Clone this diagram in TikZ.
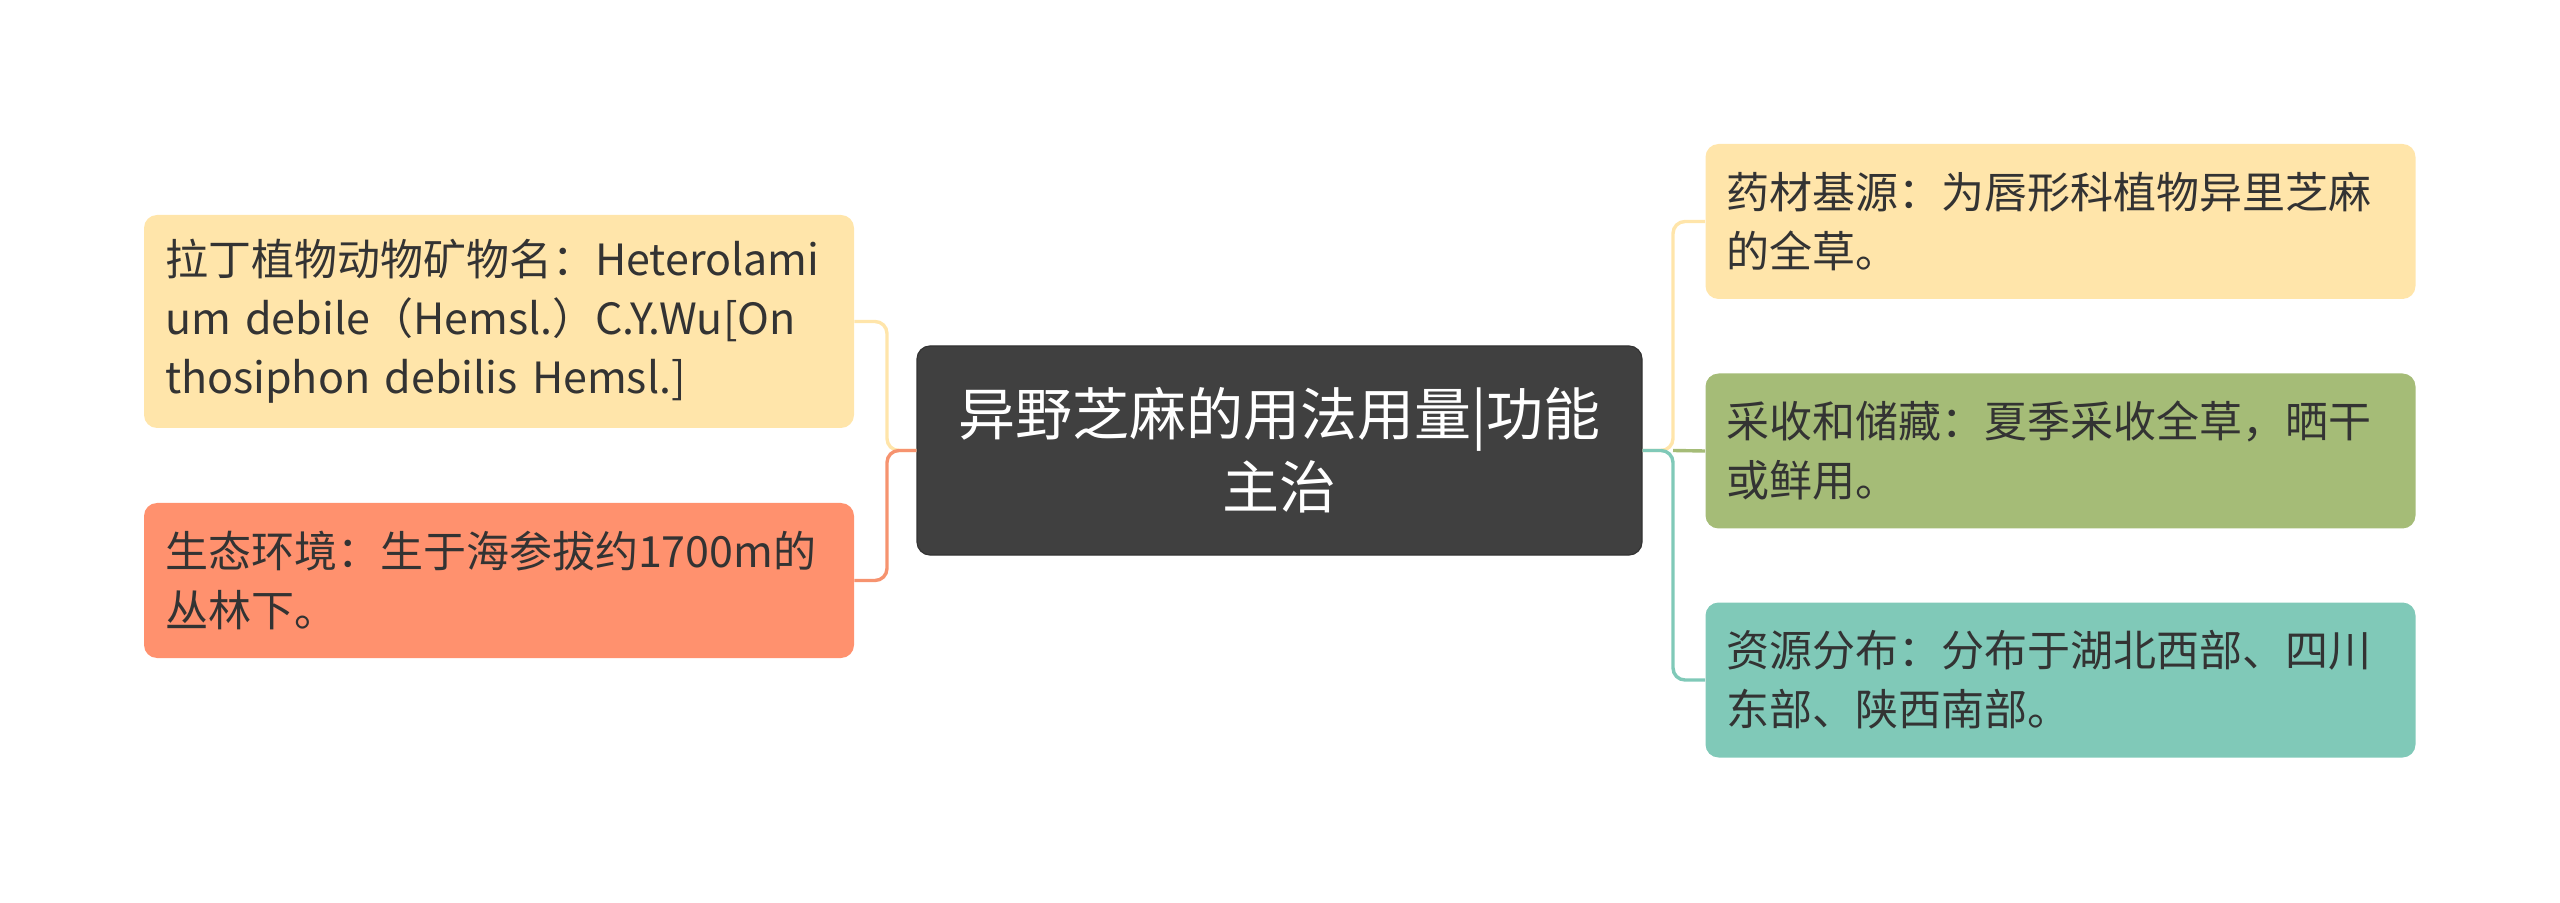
\documentclass[tikz,border=0pt]{standalone}
\usepackage{fontspec}
\setmainfont{Noto Sans CJK SC}
\definecolor{cyellow}{HTML}{FFE5AA}
\definecolor{csalmon}{HTML}{FF916E}
\definecolor{cgreen}{HTML}{A5BC77}
\definecolor{cteal}{HTML}{80C9B8}
\definecolor{ccenter}{HTML}{404040}
\definecolor{ctext}{HTML}{333333}
\definecolor{lyellow}{HTML}{FFE5AA}
\definecolor{lsalmon}{HTML}{F6936F}
\definecolor{lgreen}{HTML}{A5BC77}
\definecolor{lteal}{HTML}{80C9B8}
\tikzset{
  leaf/.style={rectangle, rounded corners=6.5pt, minimum width=355pt, text width=334pt,
    inner xsep=10.5pt, inner ysep=0pt, align=left, text=ctext,
    font=\fontsize{21.5}{29.5}\selectfont},
  rootbox/.style={rectangle, rounded corners=6.5pt, fill=ccenter, draw=black!80, line width=0.6pt,
    minimum width=362.5pt, minimum height=104.5pt, text width=345pt, align=center, text=white,
    font=\fontsize{28.5}{36.5}\selectfont},
  link/.style={line width=1.7pt, rounded corners=6pt}
}
\begin{document}
\begin{tikzpicture}[x=0.5pt,y=-0.5pt]
\useasboundingbox (0,0) rectangle (2560,903);
\node[rootbox] (root) at (1279.5,450.5) {异野芝麻的用法用量|功能\\主治};
\node[leaf, fill=cyellow, minimum height=106.5pt] (lt) at (499,321.5)
  {拉丁植物动物矿物名：Heterolami\\um debile（Hemsl.）C.Y.Wu[On\\thosiphon debilis Hemsl.]};
\node[leaf, fill=csalmon, minimum height=77.5pt] (lb) at (499,580.5)
  {生态环境：生于海参拔约1700m的\\丛林下。};
\node[leaf, fill=cyellow, minimum height=77.5pt] (rt) at (2060.5,221.5)
  {药材基源：为唇形科植物异里芝麻\\的全草。};
\node[leaf, fill=cgreen, minimum height=77.5pt] (rm) at (2060.5,451)
  {采收和储藏：夏季采收全草，晒干\\或鲜用。};
\node[leaf, fill=cteal, minimum height=77.5pt] (rb) at (2060.5,680)
  {资源分布：分布于湖北西部、四川\\东部、陕西南部。};
\coordinate (lj) at (887,450.5);
\coordinate (rj) at (1673,450.5);
\draw[link, lyellow] (root.west) -- (lj) |- (lt.east);
\draw[link, lsalmon] (root.west) -- (lj) |- (lb.east);
\draw[link, lyellow] (root.east) -- (rj) |- (rt.west);
\draw[link, lteal] (root.east) -- (rj) |- (rb.west);
\draw[link, lgreen] (rj) -- (rm.west);
\end{tikzpicture}
\end{document}
